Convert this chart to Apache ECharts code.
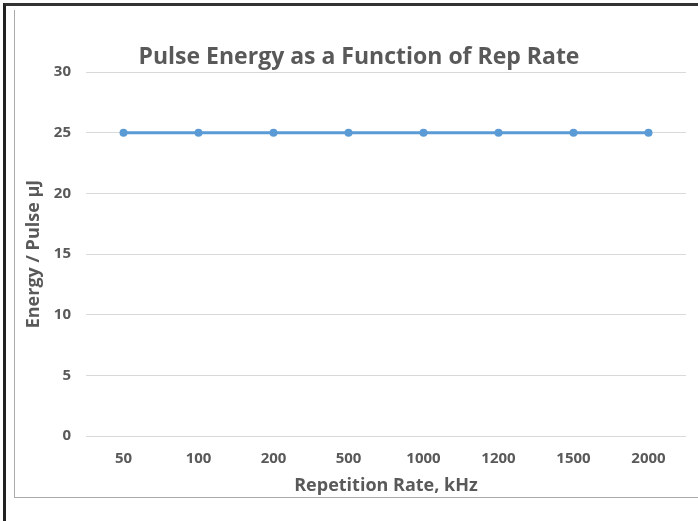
<!DOCTYPE html>
<html>
<head>
<meta charset="utf-8">
<script src="https://cdn.jsdelivr.net/npm/echarts@6/dist/echarts.min.js"></script>
<style>
  html, body { margin: 0; padding: 0; background: #fff; }
  #outer { position: absolute; left: 3px; top: 3px; width: 720px; height: 540px; border-left: 3px solid #222; border-top: 3px solid #333; }
  #inner { position: absolute; left: 14px; top: 10px; width: 700px; height: 487px; border-left: 1px solid #aaa; border-bottom: 1px solid #aaa; }
  #chart { position: absolute; left: 0; top: 0; width: 698px; height: 521px; }
</style>
</head>
<body>
<div id="outer"></div>
<div id="inner"></div>
<div id="chart"></div>
<script>
// 重复频率 (kHz) 与每脉冲能量 (µJ)
var repRates = ['50', '100', '200', '500', '1000', '1200', '1500', '2000'];
var energyPerPulse = [25, 25, 25, 25, 25, 25, 25, 25];
var yTicks = [0, 5, 10, 15, 20, 25, 30];

var chartDom = document.getElementById('chart');
var myChart = echarts.init(chartDom);
var textColor = '#595959';
var fontName = 'Open Sans';

var option = {
  animation: false,
  title: {
    text: 'Pulse Energy as a Function of Rep Rate',
    left: 354,
    top: 41,
    textAlign: 'center',
    textStyle: { color: textColor, fontSize: 23, fontWeight: 'bold', fontFamily: fontName }
  },
  grid: { left: 86, right: 12, top: 72, bottom: 85 },
  xAxis: {
    type: 'category',
    data: repRates,
    name: 'Repetition Rate, kHz',
    nameLocation: 'middle',
    nameGap: 41,
    nameTextStyle: { color: textColor, fontSize: 18, fontWeight: 'bold', fontFamily: fontName },
    axisLine: { show: false },
    axisTick: { show: false },
    axisLabel: { color: textColor, fontSize: 15, fontWeight: 'bold', fontFamily: fontName, margin: 15 }
  },
  yAxis: {
    type: 'value',
    min: yTicks[0],
    max: yTicks[yTicks.length - 1],
    interval: 5,
    name: 'Energy / Pulse µJ',
    nameLocation: 'middle',
    nameGap: 38,
    nameTextStyle: { color: textColor, fontSize: 18, fontWeight: 'bold', fontFamily: fontName },
    axisLine: { show: false },
    axisTick: { show: false },
    axisLabel: { color: textColor, fontSize: 15, fontWeight: 'bold', fontFamily: fontName, margin: 15 },
    splitLine: { lineStyle: { color: '#d9d9d9', width: 1 } }
  },
  series: [{
    type: 'line',
    data: energyPerPulse,
    symbol: 'circle',
    symbolSize: 8,
    lineStyle: { color: '#5b9bd5', width: 3 },
    itemStyle: { color: '#5b9bd5' }
  }]
};
option && myChart.setOption(option);
</script>
</body>
</html>
